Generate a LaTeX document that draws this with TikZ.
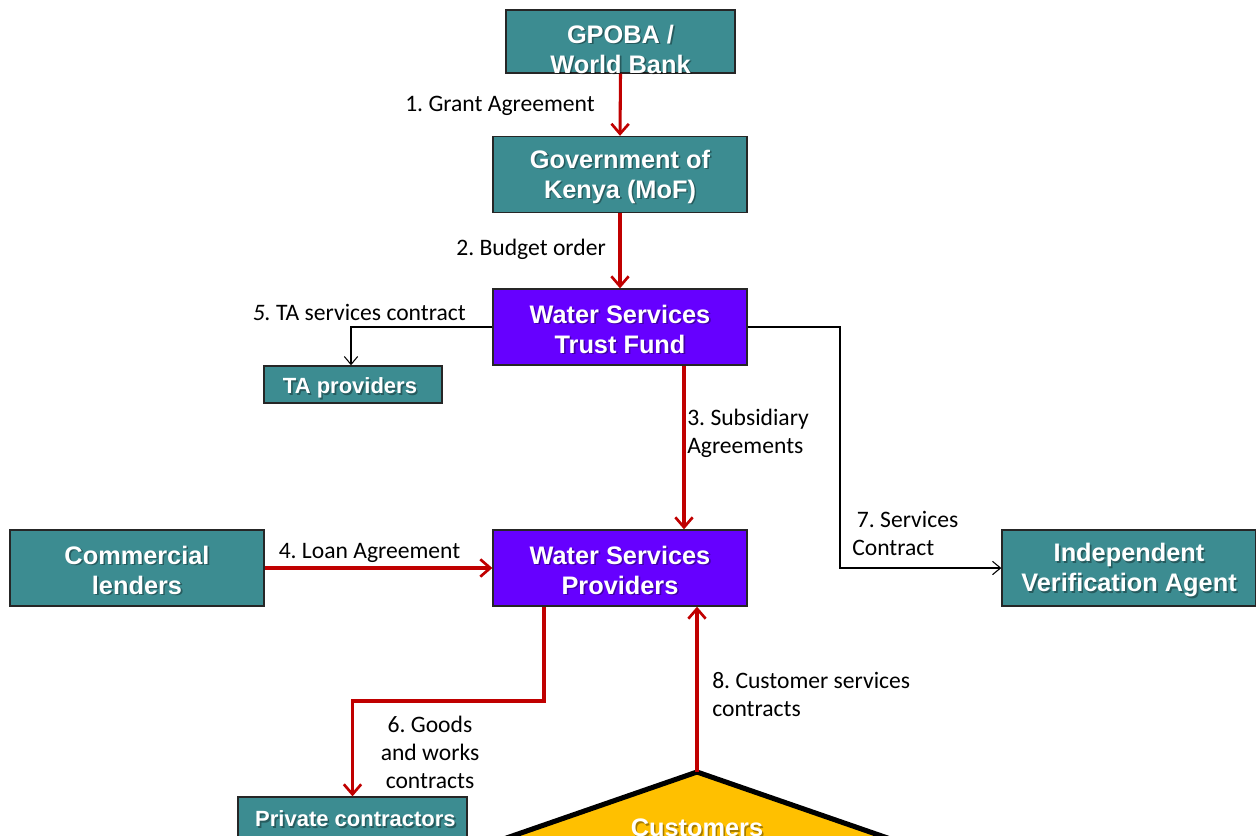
\documentclass[tikz,border=0pt]{standalone}
\usepackage{fontspec}
\setmainfont{Carlito}
\newfontfamily\boxfont{Liberation Sans}
\usetikzlibrary{arrows.meta}
\definecolor{tealbox}{RGB}{60,140,145}
\definecolor{purplebox}{RGB}{102,0,255}
\definecolor{arrowred}{RGB}{192,0,0}
\definecolor{custyellow}{RGB}{255,192,0}
\frenchspacing
% white box text with a soft dark shadow
\newcommand\shadowtext[5]{% style, name, x, y, text
  \node[#1, text=black, opacity=0.35] (#2s) at (#3+1.6,#4+1.6) {#5};
  \node[#1] (#2) at (#3,#4) {#5};}
\begin{document}
\begin{tikzpicture}[x=0.75pt,y=-0.75pt,
  box/.style={draw=black!85, line width=1pt, fill=tealbox, inner sep=0pt},
  pbox/.style={box, fill=purplebox},
  btext/.style={text=white, font=\boxfont\bfseries\fontsize{19}{22.5}\selectfont, align=center, inner sep=0pt},
  stext/.style={text=white, font=\boxfont\bfseries\fontsize{16.5}{20}\selectfont, align=center, inner sep=0pt},
  big/.style={minimum width=190.5pt, minimum height=57pt},
  lbl/.style={font=\fontsize{17.7}{21}\selectfont, inner sep=0pt},
  redarrow/.style={draw=arrowred, line width=2.3pt, -{Straight Barb[length=7.5pt,width=13pt,line width=2pt]}},
  blackarrow/.style={draw=black, line width=0.8pt, -{Straight Barb[length=6pt,width=10pt,line width=0.8pt]}}
]
\clip (0,0) rectangle (1256,835);
\useasboundingbox (0,0) rectangle (1256,835);

% boxes
\node[box, minimum width=171.75pt, minimum height=47.25pt] (gpoba) at (620.5,41.5) {};
\node[box, big] (gov) at (620,174.5) {};
\node[pbox, big] (wstf) at (620,327) {};
\node[box, minimum width=133.5pt, minimum height=27.75pt] (ta) at (353,384.5) {};
\node[box, big] (comm) at (137,568) {};
\node[pbox, big] (wsp) at (620,568) {};
\node[box, big] (iva) at (1129,568) {};
\node[box, minimum width=171.75pt, minimum height=31.5pt] (priv) at (352.5,818) {};

% customers triangle
\coordinate (apex) at (697,772);
\filldraw[fill=custyellow, draw=black, line width=3.8pt, line join=miter] (apex) -- (443,860) -- (951,860) -- cycle;

% box texts
\shadowtext{btext}{gpobat}{620.5}{49}{GPOBA /\\World Bank}
\shadowtext{btext}{govt}{620}{176.5}{Government of\\Kenya (MoF)}
\shadowtext{btext}{wstft}{620}{329}{Water Services\\Trust Fund}
\shadowtext{stext}{tat}{350}{388}{TA providers}
\shadowtext{btext}{commt}{137}{570}{Commercial\\lenders}
\shadowtext{btext}{wspt}{620}{570}{Water Services\\Providers}
\shadowtext{btext}{ivat}{1129}{570}{Independent\\Verification Agent}
\shadowtext{stext}{privt}{355.5}{819}{Private contractors}
\shadowtext{btext}{cust}{697}{828}{Customers}

% connectors
\draw[redarrow] (gpoba.south) -- (gov.north);
\draw[redarrow] (gov.south) -- (wstf.north);
\draw[redarrow] ([xshift=48pt]wstf.south) -- ([xshift=48pt]wsp.north);
\draw[redarrow] (comm.east) -- (wsp.west);
\draw[blackarrow] (wstf.west) -| ([xshift=-1.5pt]ta.north);
\coordinate (c7) at (840,327);
\draw[blackarrow] (wstf.east) -- (c7) |- (iva.west);
\coordinate (c6) at (352.5,701);
\draw[redarrow] ([xshift=-57pt]wsp.south) |- (c6) -- (priv.north);
\draw[redarrow] (apex) -- (apex |- wsp.south);

% labels
\node[lbl, anchor=east] (l1) at (595,106) {1. Grant Agreement};
\node[lbl, anchor=east] (l2) at (606,249) {2. Budget order};
\node[lbl, anchor=west, align=left] (l3) at (687,433) {3. Subsidiary\\Agreements};
\node[lbl] (l4) at (369.5,553) {4. Loan Agreement};
\node[lbl, anchor=east] (l5) at (466,312.5) {\textit{5.} TA services contract};
\node[lbl, align=center] (l6) at (430,752) {6. Goods\\and works\\contracts};
\node[lbl, anchor=west, align=left] (l7) at (852,533) {\hspace{3.5pt}7. Services\\Contract};
\node[lbl, anchor=west, align=left] (l8) at (712,694) {8. Customer services\\contracts};
\end{tikzpicture}
\end{document}
